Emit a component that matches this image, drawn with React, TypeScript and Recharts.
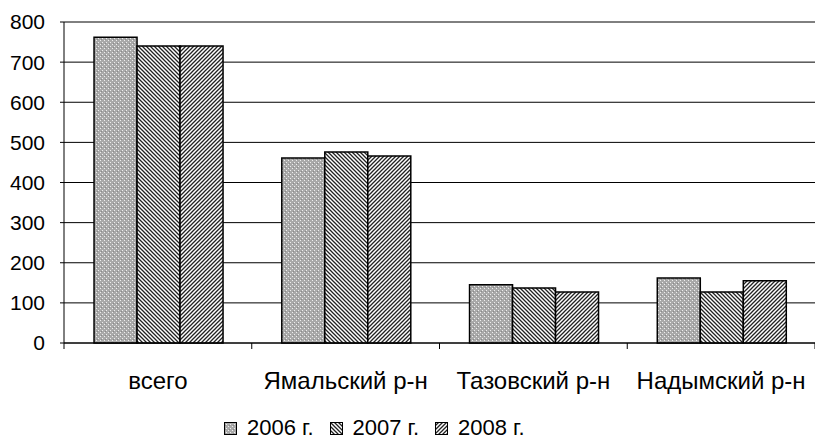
import { BarChart, Bar, XAxis, YAxis, CartesianGrid, Legend } from "recharts";

const categories = ["всего", "Ямальский р-н", "Тазовский р-н", "Надымский р-н"];
const values2006 = [762, 461, 145, 162];
const values2007 = [740, 476, 137, 127];
const values2008 = [740, 466, 127, 155];
const yTicks = [0, 100, 200, 300, 400, 500, 600, 700, 800];

const series = [
  { key: "y2006", name: "2006 г.", fill: "url(#p2006)" },
  { key: "y2007", name: "2007 г.", fill: "url(#p2007)" },
  { key: "y2008", name: "2008 г.", fill: "url(#p2008)" },
];

const data = categories.map((c, i) => ({
  name: c,
  y2006: values2006[i],
  y2007: values2007[i],
  y2008: values2008[i],
}));

const W = 815;
const H = 439;
const LEFT = 64;
const RIGHT = 0;
const BAND = (W - LEFT - RIGHT) / categories.length;
const FONT = "'Liberation Sans', Arial, sans-serif";

function Patterns() {
  return (
    <svg width={0} height={0} style={{ position: "absolute" }}>
      <defs>
        <pattern id="p2006" width={4} height={4} patternUnits="userSpaceOnUse">
          <rect width={4} height={4} fill="#a9a9a9" />
          <rect x={0} y={0} width={1} height={1} fill="#eeeeee" />
          <rect x={2} y={2} width={1} height={1} fill="#eeeeee" />
          <rect x={1} y={3} width={1} height={1} fill="#8a8a8a" />
        </pattern>
        <pattern id="p2007" width={4} height={4} patternUnits="userSpaceOnUse">
          <rect width={4} height={4} fill="#ffffff" />
          <path d="M-1,-1 L5,5 M-1,3 L1,5 M3,-1 L5,1" stroke="#222" strokeWidth={1.3} />
        </pattern>
        <pattern id="p2008" width={4} height={4} patternUnits="userSpaceOnUse">
          <rect width={4} height={4} fill="#ffffff" />
          <path d="M-1,5 L5,-1 M-1,1 L1,-1 M3,5 L5,3" stroke="#222" strokeWidth={1.3} />
        </pattern>
      </defs>
    </svg>
  );
}

function XTick(props: any) {
  const { x, y, payload, index } = props;
  return (
    <g>
      <line x1={x - BAND / 2} x2={x - BAND / 2} y1={y} y2={y + 6} stroke="#000" />
      {index === categories.length - 1 && (
        <line x1={x + BAND / 2} x2={x + BAND / 2} y1={y} y2={y + 6} stroke="#000" />
      )}
      <text x={x} y={y + 46} textAnchor="middle" fontSize={24} fontFamily={FONT} fill="#000">
        {payload.value}
      </text>
    </g>
  );
}

function LegendContent() {
  return (
    <div
      style={{
        display: "flex",
        fontFamily: FONT,
        fontSize: 22,
        lineHeight: "18px",
        color: "#000",
        alignItems: "center",
        whiteSpace: "nowrap",
      }}
    >
      {series.map((s) => (
        <div key={s.key} style={{ display: "flex", alignItems: "center", marginRight: 16 }}>
          <svg width={13} height={13} style={{ marginRight: 10 }}>
            <rect x={0.5} y={0.5} width={12} height={12} fill={s.fill} stroke="#000" />
          </svg>
          <span>{s.name}</span>
        </div>
      ))}
    </div>
  );
}

export default function App() {
  return (
    <div style={{ position: "absolute", left: 0, top: 0, background: "#fff" }}>
      <Patterns />
      <BarChart
        width={W}
        height={H}
        data={data}
        margin={{ top: 22, right: RIGHT, bottom: 0, left: 0 }}
        barCategoryGap="16%"
        barGap={0}
      >
        <CartesianGrid vertical={false} stroke="#000" />
        <XAxis
          dataKey="name"
          height={50}
          axisLine={{ stroke: "#000" }}
          tickLine={false}
          tickSize={0}
          tickMargin={0}
          interval={0}
          tick={<XTick />}
        />
        <YAxis
          width={LEFT}
          domain={[0, 800]}
          ticks={yTicks}
          interval={0}
          axisLine={{ stroke: "#000" }}
          tickLine={{ stroke: "#000" }}
          tickSize={4}
          tickMargin={15}
          tick={{ fontSize: 21, fontFamily: FONT, fill: "#000" }}
        />
        <Legend
          verticalAlign="bottom"
          height={46}
          wrapperStyle={{ left: 224, top: 419, bottom: "auto", width: "auto" }}
          content={<LegendContent />}
        />
        {series.map((s) => (
          <Bar
            key={s.key}
            dataKey={s.key}
            name={s.name}
            fill={s.fill}
            stroke="#000"
            strokeWidth={1.5}
            isAnimationActive={false}
          />
        ))}
      </BarChart>
    </div>
  );
}
